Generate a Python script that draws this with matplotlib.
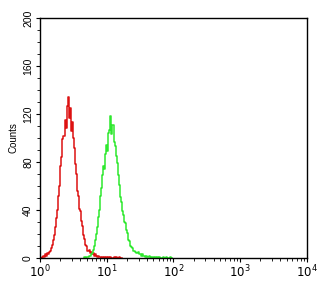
import numpy as np
import matplotlib
matplotlib.use("Agg")
import matplotlib.pyplot as plt
from matplotlib.ticker import MultipleLocator, LogLocator, NullFormatter

plt.rcParams['font.family'] = ['Liberation Sans', 'DejaVu Sans']

# histogram channels: 64 channels per decade, channel i sits at 10**(i/64)
channels_per_decade = 64

red_start = 0
red_counts = [0, 0, 1, 2, 1, 3, 2, 4, 3, 5, 6, 8, 11, 15, 19, 26,
              33, 40, 52, 60, 77, 84, 99, 102, 115, 108, 127, 134, 117, 125, 106, 113,
              100, 92, 78, 70, 56, 52, 41, 39, 31, 27, 19, 16, 11, 10, 6, 7,
              4, 5, 3, 4, 2, 3, 2, 1, 2, 1, 1, 0, 1, 0, 1, 0,
              1, 0, 1, 0, 1, 0, 0, 1, 0, 1, 0, 0, 1, 0, 0, 0]

green_start = 42
green_counts = [0, 1, 0, 1, 1, 2, 2, 3, 4, 7, 10, 15, 20, 26, 34, 40,
                52, 58, 69, 77, 74, 87, 94, 89, 104, 107, 118, 103, 111, 97, 93, 85,
                79, 69, 61, 51, 47, 39, 36, 30, 29, 23, 21, 15, 14, 10, 9, 8,
                6, 6, 5, 4, 5, 3, 3, 2, 3, 2, 2, 1, 2, 1, 1, 2,
                1, 0, 1, 1, 0, 1, 0, 1, 0, 1, 0, 0, 1, 0, 0, 1,
                0, 0, 0, 1, 0, 0]

x_ticks = [1, 10, 100, 1000, 10000]
x_labels = ['$10^0$', '$10^1$', '$10^2$', '$10^3$', '$10^4$']
y_ticks = [0, 40, 80, 120, 160, 200]


def channel_x(start, n):
    return 10 ** ((start + np.arange(n)) / channels_per_decade)


fig = plt.figure(figsize=(3.26, 2.89), dpi=100)
ax = fig.add_axes([0.1227, 0.1073, 0.819, 0.8304])

ax.step(channel_x(red_start, len(red_counts)), red_counts, where='mid',
        color='#dd1111', lw=1.1)
ax.step(channel_x(green_start, len(green_counts)), green_counts, where='mid',
        color='#2ee82e', lw=1.1)

ax.set_xscale('log')
ax.set_xlim(1, 10000)
ax.set_ylim(0, 200)

ax.set_xticks(x_ticks)
ax.set_xticklabels(x_labels)
ax.xaxis.set_minor_locator(LogLocator(base=10, subs=np.arange(2, 10)))
ax.xaxis.set_minor_formatter(NullFormatter())

ax.set_yticks(y_ticks)
ax.set_yticklabels([str(v) for v in y_ticks], rotation=90, va='center')
ax.yaxis.set_minor_locator(MultipleLocator(10))

ax.tick_params(axis='both', which='major', length=3, width=0.8, labelsize=7.5, pad=2)
ax.tick_params(axis='both', which='minor', length=2, width=0.6)
ax.tick_params(axis='x', labelsize=8.5, pad=1)

for sp in ax.spines.values():
    sp.set_linewidth(1.0)

ax.set_ylabel('Counts', fontsize=7, labelpad=3)

fig.savefig('out.png', dpi=100)
